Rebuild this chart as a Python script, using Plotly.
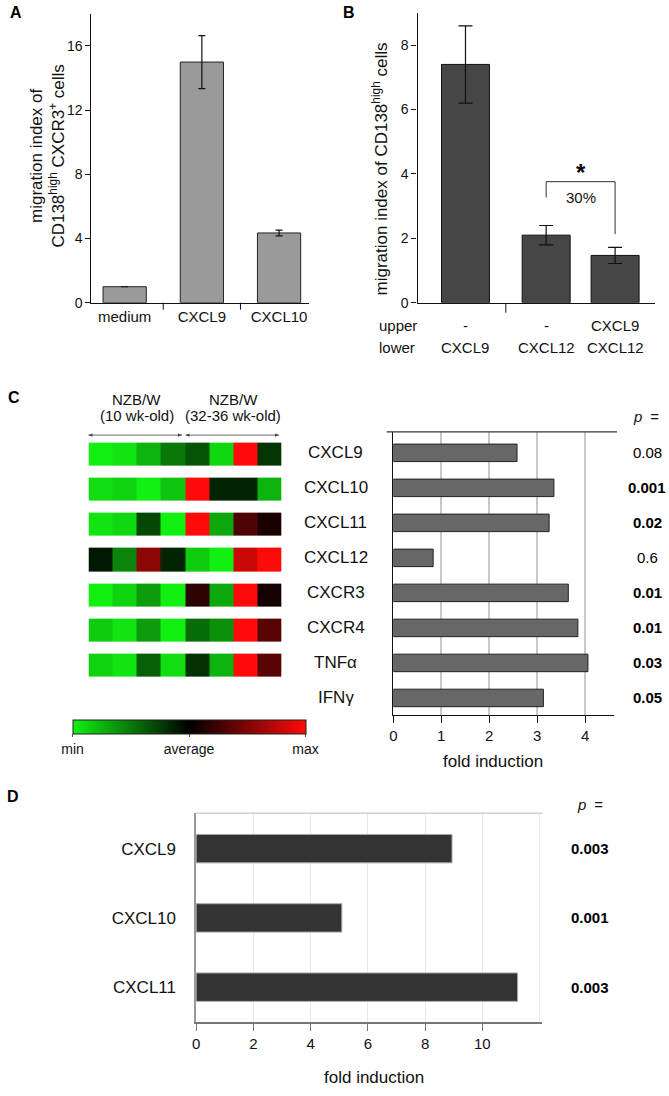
import plotly.graph_objects as go

W, H = 669, 1096
FONT = "Liberation Sans, Arial, Helvetica, sans-serif"

# ---------------- data ----------------
# Panel A
a_cats = ["medium", "CXCL9", "CXCL10"]
a_vals = [1.0, 15.0, 4.35]
a_err = [0.0, 1.65, 0.18]

# Panel B
b_upper = ["-", "-", "CXCL9"]
b_lower = ["CXCL9", "CXCL12", "CXCL12"]
b_vals = [7.4, 2.1, 1.47]
b_err = [1.2, 0.3, 0.25]

# Panel C (bars + p values)
c_genes = ["CXCL9", "CXCL10", "CXCL11", "CXCL12", "CXCR3", "CXCR4", "TNFα", "IFNγ"]
c_fold = [2.58, 3.35, 3.25, 0.83, 3.65, 3.85, 4.06, 3.13]
c_p = ["0.08", "0.001", "0.02", "0.6", "0.01", "0.01", "0.03", "0.05"]
c_p_bold = [False, True, True, False, True, True, True, True]

# Panel C heatmap (relative expression, -1 = min, 0 = average, 1 = max)
heat_genes = ["CXCL9", "CXCL10", "CXCL11", "CXCL12", "CXCR3", "CXCR4", "TNFα"]
heat_CXCL9 = [-1.0, -0.95, -0.75, -0.5, -0.35, -0.9, 1.0, -0.22]
heat_CXCL10 = [-0.92, -0.88, -1.0, -0.82, 1.0, -0.15, -0.15, -0.75]
heat_CXCL11 = [-0.95, -0.9, -0.3, -1.0, 1.0, -0.7, 0.3, 0.1]
heat_CXCL12 = [-0.1, -0.55, 0.55, -0.15, -0.85, -1.0, 0.8, 1.0]
heat_CXCR3 = [-1.0, -0.88, -0.65, -1.0, 0.18, -0.7, 1.0, 0.08]
heat_CXCR4 = [-0.85, -0.95, -0.65, -1.0, -0.45, -0.6, 1.0, 0.35]
heat_TNFa = [-0.88, -0.95, -0.4, -0.92, -0.2, -0.75, 1.0, 0.35]
heat_group_name = ["NZB/W", "NZB/W"]
heat_group_age = ["(10 wk-old)", "(32-36 wk-old)"]
heat_ticktext = ["min", "average", "max"]

# Panel D
d_genes = ["CXCL9", "CXCL10", "CXCL11"]
d_fold = [8.94, 5.09, 11.23]
d_p = ["0.003", "0.001", "0.003"]


# ---------------- helpers ----------------
def dom_x(a, b):
    return [a / W, b / W]


def dom_y(top, bottom):
    return [1 - bottom / H, 1 - top / H]


def fx(x):
    return x / W


def fy(y):
    return 1 - y / H


def txt(text, x, y, size=15, xref="paper", yref="paper", xanchor="center",
        yanchor="middle", bold=False, italic=False, angle=0, color="#111"):
    t = text
    if bold:
        t = "<b>" + t + "</b>"
    if italic:
        t = "<i>" + t + "</i>"
    return dict(text=t, x=x, y=y, xref=xref, yref=yref, xanchor=xanchor,
                yanchor=yanchor, showarrow=False, textangle=angle,
                font=dict(family=FONT, size=size, color=color))


fig = go.Figure()
ann = []
shapes = []

# ---------------- Panel A ----------------
a_x = list(range(len(a_cats)))
fig.add_trace(go.Bar(
    x=a_x, y=a_vals, width=0.56, xaxis="x", yaxis="y",
    marker=dict(color="#9a9a9a", line=dict(color="#222", width=1)),
    error_y=dict(type="data", array=a_err, color="#111", thickness=1.2, width=3.5),
    showlegend=False, hoverinfo="skip"))

# ---------------- Panel B ----------------
b_x = [i + (0.17 if i > 0 else 0) for i in range(len(b_vals))]
fig.add_trace(go.Bar(
    x=b_x, y=b_vals, width=0.696, xaxis="x2", yaxis="y2",
    marker=dict(color="#464646", line=dict(color="#111", width=1)),
    error_y=dict(type="data", array=b_err, color="#111", thickness=1.2, width=7),
    showlegend=False, hoverinfo="skip"))

# ---------------- Panel C bars ----------------
fig.add_trace(go.Bar(
    y=c_genes, x=c_fold, orientation="h", xaxis="x3", yaxis="y3", width=0.5,
    marker=dict(color="#676767", line=dict(color="#222", width=1)),
    showlegend=False, hoverinfo="skip"))

# ---------------- Panel D bars ----------------
fig.add_trace(go.Bar(
    y=d_genes, x=d_fold, orientation="h", xaxis="x4", yaxis="y4", width=0.41,
    marker=dict(color="#333333", line=dict(color="#a8a8a8", width=1)),
    showlegend=False, hoverinfo="skip"))

# ---------------- Panel C heatmap ----------------
heat_z = [heat_CXCL9, heat_CXCL10, heat_CXCL11, heat_CXCL12, heat_CXCR3,
          heat_CXCR4, heat_TNFa]
HX0, HX1 = 85, 279.3
fig.add_trace(go.Heatmap(
    z=heat_z, x=list(range(len(heat_CXCL9))), y=heat_genes,
    xaxis="x5", yaxis="y5", zmin=-1, zmax=1, ygap=12, xgap=0,
    colorscale=[[0, "#12f012"], [0.5, "#000000"], [1, "#ff0a0a"]],
    hoverinfo="skip",
    colorbar=dict(
        orientation="h", x=fx(69), xanchor="left", y=fy(725.7), yanchor="top",
        len=232.7, lenmode="pixels", thickness=13.6, thicknessmode="pixels",
        xpad=0, ypad=0, outlinewidth=1, outlinecolor="#222",
        tickmode="array", tickvals=[-1, 0, 1], ticktext=heat_ticktext,
        ticks="outside", ticklen=3, tickcolor="#555",
        tickfont=dict(family=FONT, size=14, color="#111"))))

# ---------------- axes ----------------
axis_base = dict(showgrid=False, zeroline=False, fixedrange=True)
tick_font = dict(family=FONT, size=14, color="#111")

layout = dict(
    width=W, height=H, margin=dict(l=0, r=0, t=0, b=0),
    paper_bgcolor="white", plot_bgcolor="rgba(0,0,0,0)",
    font=dict(family=FONT, color="#111"),
    bargap=0.4,
    # A
    xaxis=dict(axis_base, domain=dom_x(88, 307), range=[-0.43, 2.39], anchor="y",
               tickmode="array", tickvals=a_x, ticktext=a_cats, ticks="",
               tickfont=dict(family=FONT, size=15, color="#111"),
               showline=True, linecolor="#111", linewidth=1.2),
    yaxis=dict(axis_base, domain=dom_y(14, 305), range=[0, 18], anchor="x",
               tickmode="array", tickvals=[0, 4, 8, 12, 16], ticks="outside",
               ticklen=5, tickcolor="#111", tickfont=tick_font,
               showline=True, linecolor="#111", linewidth=1.2),
    # B
    xaxis2=dict(axis_base, domain=dom_x(416, 655), range=[-0.696, 2.75], anchor="y2",
                showticklabels=False, ticks="",
                showline=True, linecolor="#111", linewidth=1.2),
    yaxis2=dict(axis_base, domain=dom_y(13, 305), range=[0, 9], anchor="x2",
                tickmode="array", tickvals=[0, 2, 4, 6, 8], ticks="outside",
                ticklen=5, tickcolor="#111", tickfont=tick_font,
                showline=True, linecolor="#111", linewidth=1.2),
    # C bars
    xaxis3=dict(axis_base, domain=dom_x(391.7, 613.5), range=[0, 4.6], anchor="y3",
                tickmode="array", tickvals=[0, 1, 2, 3, 4], ticks="outside",
                ticklen=7, tickcolor="#111",
                tickfont=dict(family=FONT, size=15, color="#111"),
                showgrid=True, gridcolor="#c8c8c8", gridwidth=1.5,
                showline=True, linecolor="#111", linewidth=1.2),
    yaxis3=dict(axis_base, domain=dom_y(435, 720), type="category", anchor="x3",
                range=[7.48, -0.6], showticklabels=False, ticks="",
                showline=True, linecolor="#111", linewidth=1.2),
    # D
    xaxis4=dict(axis_base, domain=dom_x(193.3, 541.7), range=[0, 12.1], anchor="y4",
                tickmode="array", tickvals=[0, 2, 4, 6, 8, 10], ticks="outside",
                ticklen=7, tickcolor="#777", tickwidth=1.3,
                tickfont=dict(family=FONT, size=15, color="#111"),
                showgrid=True, gridcolor="#e8e8e8", gridwidth=1,
                showline=True, linecolor="#777", linewidth=1.5,
                minor=dict(tickmode="array", tickvals=[12], ticks="",
                           showgrid=True, gridcolor="#e8e8e8", gridwidth=1)),
    yaxis4=dict(axis_base, domain=dom_y(819.3, 1030), type="category", anchor="x4",
                range=[2.51, -0.51], ticks="", ticklabelstandoff=15,
                tickfont=dict(family=FONT, size=17, color="#111"),
                showline=True, linecolor="#999", linewidth=1.5),
    # heatmap
    xaxis5=dict(axis_base, domain=dom_x(HX0, HX1), range=[-0.5, 7.5], anchor="y5",
                visible=False),
    yaxis5=dict(axis_base, domain=dom_y(439.8, 687.7), type="category", anchor="x5",
                range=[6.5, -0.5], visible=False),
)

# category-boundary ticks under the A and B x axes
for xb in [(a_x[i] + a_x[i + 1]) / 2 for i in range(len(a_x) - 1)]:
    shapes.append(dict(type="line", xref="x", yref="paper", x0=xb, x1=xb,
                       y0=fy(305), y1=fy(312), line=dict(color="#111", width=1)))
xb = (b_x[0] + b_x[1]) / 2
shapes.append(dict(type="line", xref="x2", yref="paper", x0=xb, x1=xb,
                   y0=fy(306), y1=fy(315), line=dict(color="#111", width=1)))

# ---------------- annotations ----------------
# panel letters
ann.append(txt("A", fx(12), fy(13), size=16, bold=True, color="#000"))
ann.append(txt("B", fx(347), fy(13), size=16, bold=True, color="#000"))
ann.append(txt("C", fx(10), fy(400), size=16, bold=True, color="#000"))
ann.append(txt("D", fx(9), fy(802), size=16, bold=True, color="#000"))

# A y title
ann.append(txt("migration index of<br>CD138<sup>high</sup> CXCR3<sup>+</sup> cells",
               fx(44), fy(157), size=17, angle=-90))

# B y title and labels
ann.append(txt("migration index of CD138<sup>high</sup> cells",
               fx(378), fy(170), size=17, angle=-90))
ann.append(txt("upper", fx(375), fy(328), size=15, xanchor="left"))
ann.append(txt("lower", fx(375), fy(350), size=15, xanchor="left"))
for xi, u, lo in zip(b_x, b_upper, b_lower):
    ann.append(txt(u, xi, fy(328), size=15, xref="x2"))
    ann.append(txt(lo, xi, fy(350), size=15, xref="x2"))
# significance bracket
br_top, br_left, br_right = 3.76, 3.27, 2.13
shapes += [
    dict(type="line", xref="x2", yref="y2", x0=b_x[1], x1=b_x[1], y0=br_left, y1=br_top,
         line=dict(color="#333", width=1)),
    dict(type="line", xref="x2", yref="y2", x0=b_x[1], x1=b_x[2], y0=br_top, y1=br_top,
         line=dict(color="#333", width=1)),
    dict(type="line", xref="x2", yref="y2", x0=b_x[2], x1=b_x[2], y0=br_right, y1=br_top,
         line=dict(color="#333", width=1)),
]
mid = (b_x[1] + b_x[2]) / 2
ann.append(txt("*", mid, 4.05, size=24, xref="x2", yref="y2", bold=True, color="#000"))
ann.append(txt("30%", mid, 3.27, size=15, xref="x2", yref="y2"))

# C heatmap header
for gi, (gname, gage) in enumerate(zip(heat_group_name, heat_group_age)):
    cx = 1.5 + 4 * gi
    ann.append(txt(gname, cx, fy(402), size=15, xref="x5"))
    ann.append(txt(gage, cx, fy(419), size=15, xref="x5"))
cell_w = (HX1 - HX0) / 8
ay_px = 438.3
for c0, c1 in [(-0.5, 3.37), (3.52, 7.39)]:
    p0 = HX0 + (c0 + 0.5) * cell_w
    p1 = HX0 + (c1 + 0.5) * cell_w
    shapes.append(dict(type="line", xref="paper", yref="paper", x0=fx(p0), x1=fx(p1),
                       y0=fy(ay_px), y1=fy(ay_px), line=dict(color="#444", width=0.8)))
    for tip, back in [(p0, p0 + 4), (p1, p1 - 4)]:
        shapes.append(dict(
            type="path", xref="paper", yref="paper",
            path=f"M {fx(tip)} {fy(ay_px)} L {fx(back)} {fy(ay_px - 1.6)} "
                 f"L {fx(back)} {fy(ay_px + 1.6)} Z",
            fillcolor="#444", line=dict(width=0)))

# C gene labels and p values
for g, p, b in zip(c_genes, c_p, c_p_bold):
    ann.append(txt(g, fx(333.5), g, size=17, yref="y3"))
    ann.append(txt(p, fx(647), g, size=15, yref="y3", bold=b, color="#000"))
ann.append(txt("p", fx(644), fy(420), size=15, italic=True, xanchor="right"))
ann.append(txt(" =", fx(644), fy(420), size=15, xanchor="left"))
ann.append(txt("fold induction", fx(491.7), fy(766.7), size=17))
shapes.append(dict(type="line", xref="paper", yref="paper", x0=fx(385), x1=fx(616.7),
                   y0=fy(435), y1=fy(435), line=dict(color="#333", width=1.2)))

# D labels
ann.append(txt("p", fx(588), fy(810.7), size=15, italic=True, xanchor="right"))
ann.append(txt(" =", fx(588), fy(810.7), size=15, xanchor="left"))
for g, p in zip(d_genes, d_p):
    ann.append(txt(p, fx(589.3), g, size=15, yref="y4", bold=True, color="#000"))
ann.append(txt("fold induction", fx(372), fy(1085), size=17))
shapes.append(dict(type="line", xref="paper", yref="paper", x0=fx(193.3), x1=fx(541.7),
                   y0=fy(819.3), y1=fy(819.3), line=dict(color="#cfcfcf", width=1.5)))

layout["annotations"] = ann
layout["shapes"] = shapes
fig.update_layout(**layout)

fig.write_html("out.html", config={"displayModeBar": False},
               post_script="document.body.style.margin='0';document.body.style.overflow='hidden';")
